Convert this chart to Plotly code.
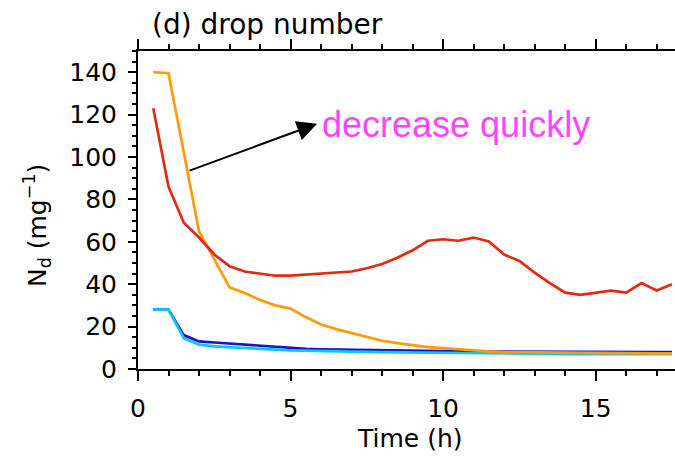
import plotly.graph_objects as go

# Drop number concentration time series (mg^-1)
t_red = [0.5, 1, 1.5, 2, 2.5, 3, 3.5, 4, 4.5, 5, 5.5, 6, 6.5, 7, 7.5, 8, 8.5, 9,
         9.5, 10, 10.5, 11, 11.5, 12, 12.5, 13, 13.5, 14, 14.5, 15, 15.5, 16,
         16.5, 17, 17.5]
nd_red = [123, 86, 69, 62, 54, 48.5, 46, 45, 44, 44, 44.5, 45, 45.2, 46, 47.5,
          49.5, 52.5, 56, 60.5, 61.2, 60.5, 62, 60.2, 54, 51, 45.5, 40.5, 36,
          35, 36, 37, 36, 40.5, 37, 40]

t_orange = [0.5, 1, 2, 3, 3.5, 4, 4.5, 5, 5.5, 6, 6.5, 7, 7.5, 8, 8.5, 9, 9.5,
            10, 10.5, 11, 11.5, 12, 13, 14, 15, 16, 17, 17.5]
nd_orange = [140, 139.5, 65, 38.5, 35.8, 32.5, 30, 28.5, 24.5, 21, 18.8, 17,
             15, 13.3, 12.2, 11.2, 10.3, 9.8, 9.2, 8.7, 8.3, 8.0, 7.8, 7.6, 7.5,
             7.5, 7.4, 7.4]

t_blue = [0.5, 1, 1.5, 2, 2.5, 3, 3.5, 4, 4.5, 5, 5.5, 6, 7, 8, 9, 10, 11, 12,
          13, 14, 15, 16, 17, 17.5]
nd_blue = [28, 28, 16, 13, 12.5, 12, 11.5, 11, 10.4, 9.8, 9.5, 9.3, 9.0, 8.7,
           8.5, 8.4, 8.3, 8.2, 8.1, 8.0, 8.0, 8.0, 8.0, 8.0]

t_cyan = [0.5, 1, 1.5, 2, 2.5, 3, 4, 5, 6, 7, 8, 9, 10, 11, 12, 13, 14, 15, 16,
          17, 17.5]
nd_cyan = [28, 28, 14.5, 11.5, 10.7, 10.2, 9.5, 8.8, 8.4, 8.2, 8.0, 7.8, 7.6,
           7.4, 7.2, 7.1, 7.0, 7.0, 7.0, 7.0, 7.0]

# Arrow pointing at the rapid decline
arrow_tail = (1.64, 93.3)
arrow_head = (5.87, 115.7)

FONT = "DejaVu Sans"

fig = go.Figure()
for t, v, c in [(t_blue, nd_blue, "#1414c8"),
                (t_cyan, nd_cyan, "#10c4f4"),
                (t_orange, nd_orange, "#ff9a0a"),
                (t_red, nd_red, "#e02a14")]:
    fig.add_trace(go.Scatter(x=t, y=v, mode="lines",
                             line=dict(color=c, width=2.7),
                             showlegend=False, hoverinfo="skip"))

fig.update_layout(
    width=675, height=459, autosize=False,
    margin=dict(l=138, r=0, t=51, b=90),
    plot_bgcolor="white", paper_bgcolor="white",
    font=dict(family=FONT, size=25, color="black"),
)

fig.update_xaxes(
    range=[0, 17.6], tickvals=[0, 5, 10, 15], ticks="outside", ticklen=10,
    tickwidth=1.5, tickcolor="black", showline=True, linecolor="black",
    linewidth=2, mirror="ticks", showgrid=False, zeroline=False,
    ticklabelstandoff=6,
    minor=dict(dtick=1, tick0=0, ticks="outside", ticklen=5, tickwidth=1.5,
               tickcolor="black", showgrid=False),
)
fig.update_yaxes(
    range=[0, 150], tickvals=[0, 20, 40, 60, 80, 100, 120, 140],
    ticks="outside", ticklen=8, tickwidth=1.5, tickcolor="black",
    showline=True, linecolor="black", linewidth=2, mirror=False,
    showgrid=False, zeroline=False, ticklabelstandoff=6,
    minor=dict(dtick=5, tick0=0, ticks="outside", ticklen=4, tickwidth=1.5,
               tickcolor="black", showgrid=False),
)

fig.add_annotation(text="(d) drop number", xref="paper", yref="paper",
                   x=(150 - 138) / 537, y=(369 - 43) / 318,
                   xanchor="left", yanchor="bottom", showarrow=False,
                   font=dict(family=FONT, size=28, color="black"))
fig.add_annotation(text="N<sub>d</sub> (mg<sup>−1</sup>)", xref="paper",
                   yref="paper", x=(37 - 138) / 537, y=(369 - 226) / 318,
                   xanchor="center", yanchor="middle", textangle=-90,
                   showarrow=False, font=dict(family=FONT, size=25))
fig.add_annotation(text="Time (h)", xref="paper", yref="paper",
                   x=(409 - 138) / 537, y=(369 - 438) / 318,
                   xanchor="center", yanchor="middle", showarrow=False,
                   font=dict(family=FONT, size=25))

fig.add_annotation(x=arrow_head[0], y=arrow_head[1], ax=arrow_tail[0],
                   ay=arrow_tail[1], xref="x", yref="y", axref="x", ayref="y",
                   showarrow=True, arrowhead=2, arrowsize=2, arrowwidth=2,
                   arrowcolor="black", text="")
fig.add_annotation(text="decrease quickly", x=5.97, y=115.5, xref="x", yref="y",
                   xanchor="left", yanchor="middle", showarrow=False,
                   font=dict(family="Liberation Sans", size=36,
                             color="#ff44ff"))

fig.write_html("out.html")
